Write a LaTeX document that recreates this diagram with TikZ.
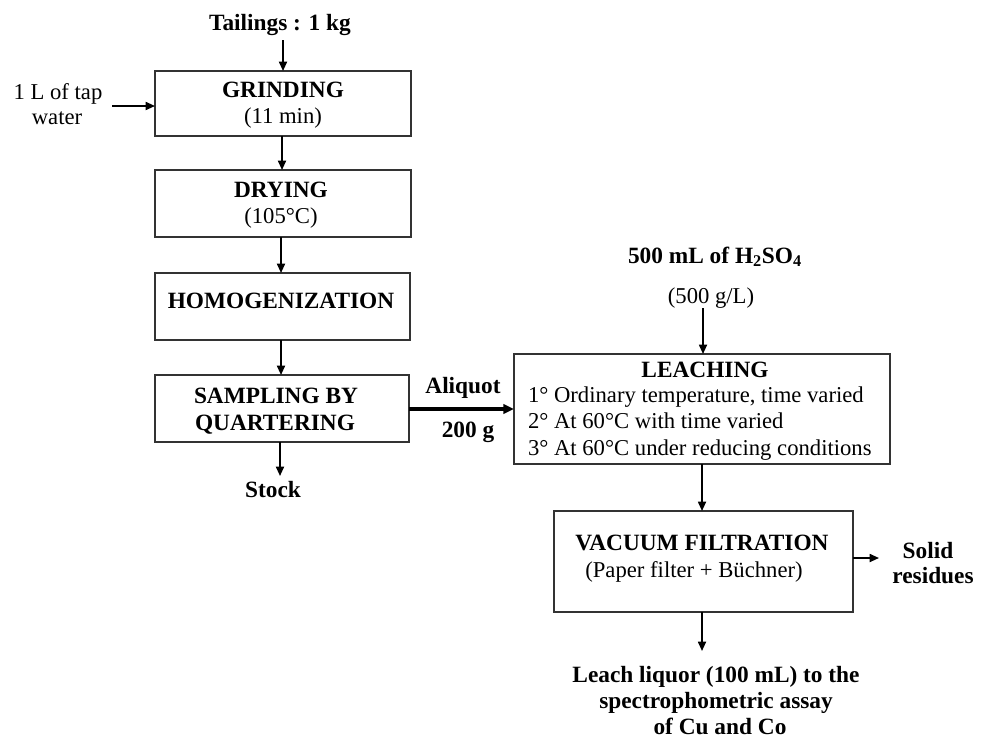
\documentclass[tikz,border=0pt]{standalone}
\usepackage{fontspec}
\setmainfont{Liberation Serif}
\usetikzlibrary{arrows.meta}
\begin{document}
\begin{tikzpicture}[x=0.75pt,y=-0.75pt,
  every node/.style={inner sep=0pt,outer sep=0pt,anchor=base,font=\fontsize{17}{20}\selectfont},
  procbox/.style={draw=black!80,line width=1.5pt},
  lbl/.style={font=\fontsize{17.5}{20}\selectfont\bfseries},
  flow/.style={line width=1.3pt,-{Triangle[length=7pt,width=6pt]}},
  thickflow/.style={line width=2.4pt,-{Triangle[length=8pt,width=7pt]}}]
\useasboundingbox (0,0) rectangle (987,739);
% boxes
\draw[procbox] (155,71) rectangle (411,136);
\draw[procbox] (155,170) rectangle (411,237);
\draw[procbox] (155,273) rectangle (410,340);
\draw[procbox] (155,375) rectangle (409,442);
\draw[procbox] (514,354) rectangle (890,464);
\draw[procbox] (554,511) rectangle (853,612);
% box anchors
\coordinate (gT) at (283,71); \coordinate (gB) at (282,136); \coordinate (gL) at (155,106);
\coordinate (dT) at (282,170); \coordinate (dB) at (281,237);
\coordinate (hT) at (281,273); \coordinate (hB) at (281,340);
\coordinate (sT) at (281,375); \coordinate (sB) at (280,442); \coordinate (sR) at (409,409);
\coordinate (lT) at (703,354); \coordinate (lB) at (702,464); \coordinate (lL) at (514,409);
\coordinate (vT) at (702,511); \coordinate (vB) at (702,612); \coordinate (vR) at (853,558);
% texts
\node[lbl] (tail) at (280,30) {Tailings : 1 kg};
\node (water1) at (58,99) {1 L of tap};
\node (water2) at (57,124) {water};
\node[lbl] (grind) at (283,97) {GRINDING};
\node (grindt) at (283,123) {(11 min)};
\node[lbl] (dry) at (281,197) {DRYING};
\node (dryt) at (281,223) {(105°C)};
\node[lbl] (homo) at (281,308) {HOMOGENIZATION};
\node[lbl] (samp1) at (276,403) {SAMPLING BY};
\node[lbl] (samp2) at (275,430) {QUARTERING};
\node[lbl] (stock) at (273,497) {Stock};
\node[lbl] (aliq) at (463,393) {Aliquot};
\node[lbl] (twog) at (468,437) {200 g};
\node[lbl] (acid) at (715,263) {500 mL of H\textsubscript{2}SO\textsubscript{4}};
\node (conc) at (711,303) {(500 g/L)};
\node[lbl] (leach) at (705,377) {LEACHING};
\node[anchor=base west] (c1) at (528,402) {1° Ordinary temperature, time varied};
\node[anchor=base west] (c2) at (528,428) {2° At 60°C with time varied};
\node[anchor=base west] (c3) at (528,455) {3° At 60°C under reducing conditions};
\node[lbl] (vac) at (702,550) {VACUUM FILTRATION};
\node (paper) at (694,577) {(Paper filter + Büchner)};
\node[lbl] (solid1) at (928,558) {Solid};
\node[lbl] (solid2) at (933,583) {residues};
\node[lbl] (liq1) at (716,682) {Leach liquor (100 mL) to the};
\node[lbl] (liq2) at (716,708) {spectrophometric assay};
\node[lbl] (liq3) at (720,734) {of Cu and Co};
% arrows
\coordinate (a1) at (283,40);
\draw[flow] (a1) -- (gT);
\coordinate (a2) at (112,106);
\draw[flow] (a2) -- (gL);
\draw[flow] (gB) -- (dT);
\draw[flow] (dB) -- (hT);
\draw[flow] (hB) -- (sT);
\coordinate (a3) at (280,476);
\draw[flow] (sB) -- (a3);
\draw[thickflow] (sR) -- (lL);
\coordinate (a4) at (703,308);
\draw[flow] (a4) -- (lT);
\draw[flow] (lB) -- (vT);
\coordinate (a5) at (879,558);
\draw[flow] (vR) -- (a5);
\coordinate (a6) at (702,651);
\draw[flow] (vB) -- (a6);
\end{tikzpicture}
\end{document}
